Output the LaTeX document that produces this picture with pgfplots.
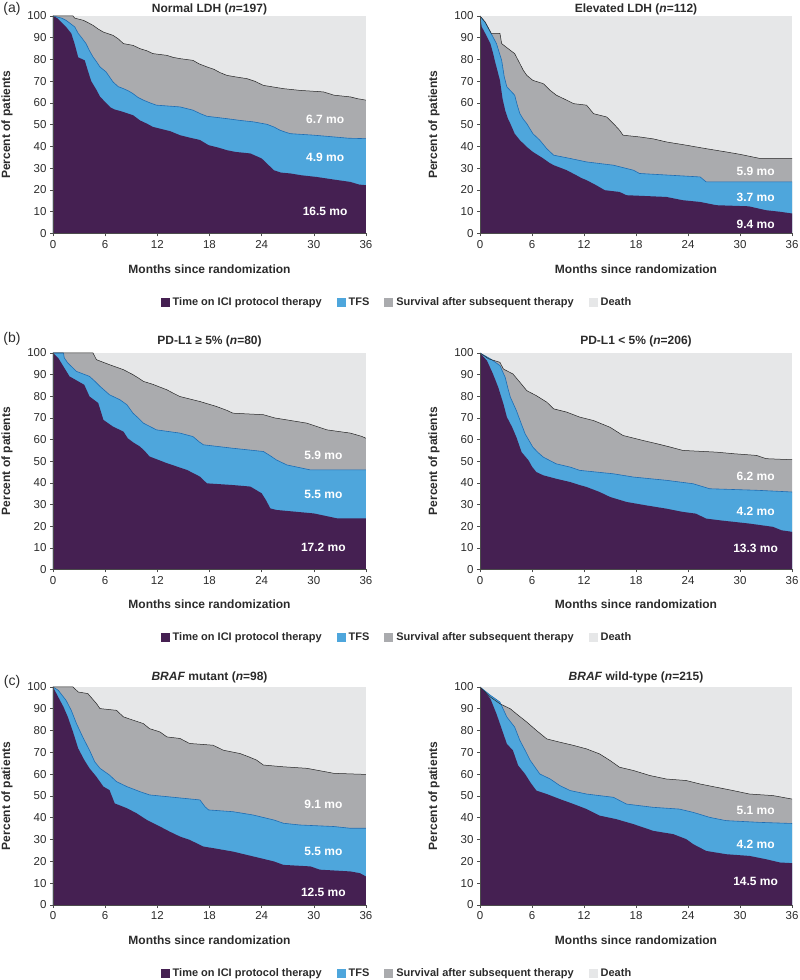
\documentclass[border=0pt]{standalone}
\usepackage{fontspec}
\setmainfont{Liberation Sans}
\usepackage{pgfplots}
\usepackage{pgfplotstable}
\pgfplotsset{compat=1.18}

\definecolor{ici}{HTML}{452052}
\definecolor{tfs}{HTML}{4EA6DC}
\definecolor{tfsline}{HTML}{1F6DB3}
\definecolor{surv}{HTML}{AAABAE}
\definecolor{death}{HTML}{E6E7E8}
\definecolor{txt}{HTML}{2B2B2B}

% ---------------- (a) Normal LDH ----------------
\pgfplotstableread[row sep=\\]{x y\\
0 100\\ 0.5 99\\ 1.0 97\\ 1.5 95\\ 2.1 92\\ 2.5 87\\ 2.9 81\\ 3.65 79.6\\ 4.0 75\\ 4.4 70\\ 5.0 66\\ 5.4 63\\ 6.1 60\\ 6.6 58\\ 7.1 57\\ 8.0 56\\ 9.2 54.4\\ 10 52\\ 10.8 50.5\\ 11.5 49\\ 12.3 48.2\\ 13.5 47\\ 14.6 45.2\\ 15.8 44\\ 16.9 43\\ 17.9 40.6\\ 19 39.5\\ 20 38.3\\ 21 37.5\\ 22.7 36.8\\ 24 34.5\\ 24.6 32.2\\ 25.4 29.1\\ 26.2 28\\ 27.3 27.6\\ 28.5 26.8\\ 30.3 26\\ 32.3 24.8\\ 34.2 23.7\\ 35.2 22.5\\ 36 22.2\\
}\aLici
\pgfplotstableread[row sep=\\]{x y\\
0 100\\ 1.0 99\\ 1.5 98\\ 2.0 96.5\\ 2.5 95\\ 2.9 92\\ 3.3 90\\ 3.8 87.3\\ 4.2 84\\ 4.6 81.2\\ 5.0 79\\ 5.4 76.6\\ 6.1 74.3\\ 6.5 72\\ 6.9 69.7\\ 7.5 67.5\\ 8.1 66.6\\ 8.7 65.5\\ 9.2 64.3\\ 9.8 62.5\\ 10.4 61.3\\ 11.2 60\\ 11.9 59\\ 14.6 58.2\\ 15.3 57.5\\ 16.1 56.7\\ 17 55\\ 17.7 53.9\\ 20 52.8\\ 21.5 52\\ 23.1 51.3\\ 24.6 50.2\\ 25.4 49\\ 26.1 47.5\\ 26.8 46.5\\ 27.3 45.9\\ 30 45.2\\ 32.3 44.4\\ 34 43.8\\ 36 43.6\\
}\aLtfs
\pgfplotstableread[row sep=\\]{x y\\
0 100\\ 2.3 100\\ 2.5 99\\ 3.5 98\\ 4.0 97\\ 4.6 95.7\\ 5.2 94\\ 5.8 92.6\\ 6.9 91.1\\ 7.5 89.5\\ 8.1 87.3\\ 9.2 86.5\\ 10 85\\ 10.8 84\\ 11.5 82.7\\ 13.1 81.9\\ 13.8 81\\ 14.6 80.4\\ 16.1 79.6\\ 16.8 78\\ 17.7 76.6\\ 18.5 75.5\\ 19.2 74\\ 20 72.7\\ 21 72\\ 22.3 71.2\\ 23.2 70\\ 24.2 68.1\\ 26.5 66.6\\ 28.4 65.8\\ 31.1 65.1\\ 32 64\\ 32.3 63.6\\ 34.2 62.8\\ 35 62\\ 36 61.3\\
}\aLos

% ---------------- (a) Elevated LDH ----------------
\pgfplotstableread[row sep=\\]{x y\\
0 100\\ 0.2 95\\ 0.6 92\\ 1.2 87.3\\ 1.5 83\\ 1.7 79.6\\ 2.0 75\\ 2.3 70.4\\ 2.6 62\\ 2.9 56.7\\ 3.2 53\\ 3.5 50.5\\ 4.0 45.9\\ 4.6 42.9\\ 5.4 39.8\\ 6.1 37.5\\ 6.7 36\\ 7.3 34.5\\ 8.0 32.5\\ 8.5 31.4\\ 10 29.1\\ 11.1 26.8\\ 11.7 25.5\\ 12.3 24.5\\ 13.4 22.2\\ 14.4 19.9\\ 16.1 19.1\\ 16.9 17.6\\ 21.5 16.8\\ 23.4 15.3\\ 25.4 14.5\\ 27.3 13.0\\ 31 12.5\\ 33 10.7\\ 34.6 10\\ 36 9.2\\
}\aRici
\pgfplotstableread[row sep=\\]{x y\\
0 100\\ 0.6 97\\ 1.2 92.6\\ 1.9 87.3\\ 2.5 79.6\\ 2.8 72\\ 3.1 67.4\\ 4.0 63.6\\ 4.3 59\\ 4.6 55.1\\ 5.0 52.5\\ 5.4 50.5\\ 6.1 45.9\\ 6.9 42.9\\ 7.7 39\\ 8.5 36\\ 10.4 34.5\\ 12.3 32.9\\ 15.4 31.4\\ 17.7 29.1\\ 18.4 27.6\\ 25.4 26\\ 26.1 23.7\\ 36 23.7\\
}\aRtfs
\pgfplotstableread[row sep=\\]{x y\\
0 100\\ 0.6 97.2\\ 1.3 92\\ 2.3 92\\ 2.5 87.3\\ 3.5 84.2\\ 4.0 82.7\\ 4.6 78.1\\ 5.0 75\\ 5.4 72.7\\ 6.1 70.4\\ 7.3 68.9\\ 8.1 65.8\\ 8.8 63.6\\ 10 61.3\\ 10.8 59.7\\ 12.3 59\\ 13.1 55.1\\ 14.6 53.6\\ 15.4 50.5\\ 16.1 47.5\\ 16.5 45.2\\ 18.4 44.4\\ 20 43.5\\ 21.5 42.1\\ 23.8 40.6\\ 26.1 39\\ 28.4 37.5\\ 30 36.4\\ 32.3 34.5\\ 36 34.5\\
}\aRos

% ---------------- (b) PD-L1 >= 5% ----------------
\pgfplotstableread[row sep=\\]{x y\\
0 100\\ 0.6 97.7\\ 1.2 93.8\\ 1.9 89.2\\ 2.9 86.9\\ 3.6 85.3\\ 4.2 79.9\\ 5.2 76.9\\ 5.5 73\\ 5.8 69.1\\ 6.9 66\\ 8.1 63.7\\ 8.6 60.6\\ 9.3 58.5\\ 10 56.8\\ 10.6 54.5\\ 11.1 52.2\\ 13.1 49.1\\ 15.4 46\\ 16.9 42.9\\ 17.7 39.8\\ 20.7 39\\ 22.7 38.3\\ 24 35.2\\ 24.5 32\\ 25 28.2\\ 25.7 27.5\\ 30 25.9\\ 32.7 23.6\\ 36 23.6\\
}\bLici
\pgfplotstableread[row sep=\\]{x y\\
0 100\\ 1.2 100\\ 1.3 97.7\\ 1.7 95.4\\ 2.7 91.5\\ 4.2 89.2\\ 4.8 87\\ 5.4 84.6\\ 6.5 80.7\\ 7.7 78.4\\ 8.5 76.1\\ 9.2 72.2\\ 9.8 70\\ 10.4 67.6\\ 11.9 64.5\\ 14.6 63\\ 16.1 61.4\\ 16.8 59\\ 17.3 57.6\\ 20.7 56\\ 24.2 54.5\\ 25 52.5\\ 25.7 50.6\\ 26.9 48.3\\ 29.6 46\\ 36 46\\
}\bLtfs
\pgfplotstableread[row sep=\\]{x y\\
0 100\\ 4.6 100\\ 5.0 96.9\\ 6.5 94.6\\ 8.1 92.3\\ 9.2 90\\ 9.8 88.5\\ 10.4 86.9\\ 11.5 85.5\\ 13.1 83\\ 13.8 81.5\\ 14.6 79.9\\ 16.9 77.6\\ 18.8 75.3\\ 20 73.5\\ 20.7 72.2\\ 24.2 71.5\\ 25.5 70\\ 26.9 69.1\\ 29.2 67.6\\ 31.5 64.5\\ 34.2 63\\ 35.5 61.5\\ 36 60.6\\
}\bLos

% ---------------- (b) PD-L1 < 5% ----------------
\pgfplotstableread[row sep=\\]{x y\\
0 100\\ 0.8 96.5\\ 1.5 90.3\\ 2.1 84.2\\ 2.7 76.5\\ 3.1 70.4\\ 3.7 65.8\\ 4.2 61.1\\ 4.8 54.2\\ 5.6 50.4\\ 6.0 47.5\\ 6.5 45\\ 7.3 43.5\\ 8.8 41.9\\ 10.4 40.4\\ 11.5 39\\ 12.3 38.1\\ 13.8 35.8\\ 15 33.5\\ 16.9 31.2\\ 19.2 29.6\\ 21.5 28.1\\ 23.4 26.6\\ 24.9 25.8\\ 26.1 23.5\\ 27.7 22.7\\ 31.1 21.2\\ 33.8 19.7\\ 34.8 18.1\\ 36 17.4\\
}\bRici
\pgfplotstableread[row sep=\\]{x y\\
0 100\\ 1.2 97.3\\ 2.3 94.2\\ 2.9 88.8\\ 3.2 84\\ 3.5 79.6\\ 4.2 73.4\\ 4.7 68\\ 5.2 62.7\\ 6.1 56.5\\ 6.7 54\\ 7.3 51.9\\ 8.8 48.8\\ 10.4 47.3\\ 11.5 45.8\\ 15.4 44.2\\ 17.7 42.7\\ 21.5 41.2\\ 24.6 39.6\\ 26.5 37.3\\ 31.9 36.6\\ 36 35.8\\
}\bRtfs
\pgfplotstableread[row sep=\\]{x y\\
0 100\\ 1.0 97.3\\ 2.3 95.7\\ 2.7 92.6\\ 3.8 90.3\\ 4.6 86.5\\ 5.4 82.6\\ 6.5 80.3\\ 7.7 77.3\\ 8.5 74.2\\ 10 72.7\\ 11.5 70.4\\ 13.1 68.8\\ 15 65.7\\ 16.5 61.9\\ 18.8 59.6\\ 20.4 58.1\\ 22 56.5\\ 23.4 55\\ 27.3 54.2\\ 29.2 53.5\\ 31.9 52.7\\ 33 51.2\\ 36 50.7\\
}\bRos

% ---------------- (c) BRAF mutant ----------------
\pgfplotstableread[row sep=\\]{x y\\
0 100\\ 0.6 95.4\\ 1.2 90.9\\ 1.7 86.3\\ 2.3 79.4\\ 2.9 71.8\\ 3.6 66.5\\ 4.2 62.7\\ 5.0 58.8\\ 5.8 54.3\\ 6.5 52.7\\ 7.1 46.6\\ 8.5 44.4\\ 9.6 42.1\\ 10.8 39\\ 12.3 36\\ 13.4 33.7\\ 14.6 31.4\\ 15.7 29.9\\ 17.3 26.8\\ 18.4 26.1\\ 20.7 24.5\\ 23 22.3\\ 25.4 20\\ 26.5 18.4\\ 29.6 17.7\\ 30.7 16.2\\ 34.2 15.4\\ 35.3 14.6\\ 36 13.1\\
}\cLici
\pgfplotstableread[row sep=\\]{x y\\
0 100\\ 0.6 98.5\\ 1.5 93.9\\ 2.1 89.3\\ 2.7 83.2\\ 3.5 76.4\\ 4.2 71\\ 4.8 65.7\\ 5.4 62.7\\ 6.5 59.6\\ 7.3 56.6\\ 8.5 54.3\\ 10 52\\ 11.1 50.5\\ 16.9 48.2\\ 17.5 45\\ 17.9 43.6\\ 20.7 42.8\\ 23 41.3\\ 25.4 39\\ 26.5 37.5\\ 28.4 36.7\\ 32.3 36\\ 34.2 35.2\\ 36 35.2\\
}\cLtfs
\pgfplotstableread[row sep=\\]{x y\\
0 100\\ 2.3 100\\ 2.9 97.7\\ 4.0 97\\ 5.0 92.4\\ 5.4 90.1\\ 7.3 89.3\\ 8.1 86.3\\ 9.2 84.8\\ 10.4 83.2\\ 11.1 80.9\\ 12.3 79.4\\ 13.1 77.1\\ 14.6 76.4\\ 15.7 74.1\\ 18.4 73.3\\ 19.6 71\\ 21.5 69.5\\ 22.5 68\\ 23.4 66.5\\ 24.2 64.2\\ 26.5 63.4\\ 29.2 62.7\\ 31.5 61\\ 32.3 60.4\\ 36 59.9\\
}\cLos

% ---------------- (c) BRAF wild-type ----------------
\pgfplotstableread[row sep=\\]{x y\\
0 100\\ 0.6 97.7\\ 1.2 94.6\\ 1.9 87.7\\ 2.5 80.8\\ 3.1 73.9\\ 3.8 70.9\\ 4.4 64\\ 5.2 60.1\\ 5.8 56.3\\ 6.5 52.5\\ 7.7 50.9\\ 9.2 48.6\\ 10.8 46.3\\ 12.3 44\\ 13.8 41\\ 15.7 39.4\\ 17.7 37.1\\ 20 34\\ 22.3 32.5\\ 23.8 30.2\\ 24.6 27.9\\ 26.1 24.8\\ 28.4 23.3\\ 31.1 22.5\\ 33 21\\ 34.6 19.5\\ 36 19.2\\
}\cRici
\pgfplotstableread[row sep=\\]{x y\\
0 100\\ 1.2 96.2\\ 2.3 93.1\\ 3.1 86.2\\ 4.0 81.6\\ 4.6 75.5\\ 5.2 71\\ 5.8 66.3\\ 6.9 60.1\\ 8.1 57.8\\ 9.2 54.8\\ 10.4 52.5\\ 12.3 50.9\\ 15.4 49.4\\ 16.9 46.3\\ 20 44.8\\ 23 44\\ 24.6 42.5\\ 26.5 40.2\\ 28.4 38.7\\ 32.3 37.9\\ 36 37.4\\
}\cRtfs
\pgfplotstableread[row sep=\\]{x y\\
0 100\\ 1.2 95.4\\ 2.3 92.3\\ 3.5 90\\ 4.2 87.7\\ 5.4 83.9\\ 6.5 80.1\\ 7.7 76.2\\ 9.2 74.7\\ 10.8 73.2\\ 12.3 71.6\\ 13.8 69.3\\ 15 66.3\\ 16.1 63.2\\ 17.7 61.7\\ 19.6 59.4\\ 21.5 57.8\\ 23.8 57.1\\ 25.4 55.5\\ 27.3 54\\ 29.2 52.5\\ 31.1 50.9\\ 33.8 50.2\\ 36 48.6\\
}\cRos

\pgfplotsset{
  km/.style={
    scale only axis,
    xmin=0, xmax=36, ymin=0, ymax=100,
    xtick={0,6,...,36}, ytick={0,10,...,100},
    axis x line*=bottom, axis y line*=left,
    axis on top,
    tick align=outside, major tick length=3pt,
    every tick/.style={color=black!70, line width=0.6pt},
    axis line style={color=black!70, line width=0.7pt},
    tick label style={font=\fontsize{11.5}{13}\selectfont, text=txt},
    /pgf/number format/assume math mode=true,
    xlabel={Months since randomization},
    ylabel={Percent of patients},
    every axis x label/.style={at={(axis description cs:0.5,-0.162)}, anchor=center,
       font=\bfseries\fontsize{12}{14}\selectfont, text=txt},
    every axis y label/.style={at={(axis description cs:-0.147,0.5)}, anchor=center, rotate=90,
       font=\bfseries\fontsize{12}{14}\selectfont, text=txt},
    legend image code/.code={\fill[##1, draw=none] (0pt,-4.5pt) rectangle (9pt,4.5pt);},
  },
  ttl/.style={every axis title/.style={at={(0.5,1)}, anchor=base, yshift=#1,
       font=\bfseries\fontsize{12}{14}\selectfont, text=txt}},
  kmlegend/.style={
    legend columns=4,
    legend style={at={(axis description cs:1.099,-0.315)}, anchor=center,
      draw=none, fill=none, font=\bfseries\fontsize{11}{13}\selectfont, text=txt,
      /tikz/every even column/.append style={column sep=13pt},
      /tikz/every odd column/.append style={column sep=1pt}},
  },
}

\newcommand{\kmpanel}[3]{%
  \addplot[fill=death, draw=none, forget plot] coordinates {(0,100) (36,100)} \closedcycle;
  \addplot[sharp plot, fill=surv, draw=none, forget plot] table {#1} \closedcycle;
  \addplot[sharp plot, fill=tfs, draw=none, forget plot] table {#2} \closedcycle;
  \addplot[sharp plot, fill=ici, draw=none, forget plot] table {#3} \closedcycle;
  \addplot[sharp plot, draw=tfsline, line width=0.6pt, forget plot] table {#2};
  \addplot[sharp plot, draw=black!85, line width=0.5pt, forget plot] table {#1};
}
\newcommand{\kmlegend}{%
  \addlegendimage{fill=ici}\addlegendentry{Time on ICI protocol therapy}
  \addlegendimage{fill=tfs}\addlegendentry{TFS}
  \addlegendimage{fill=surv}\addlegendentry{Survival after subsequent therapy}
  \addlegendimage{fill=death}\addlegendentry{Death}
}
\newcommand{\mo}[3]{\node[text=white, font=\bfseries\fontsize{12}{14}\selectfont] at (axis cs:#1,#2) {#3};}

\begin{document}
\begin{tikzpicture}
\path[use as bounding box] (0pt,0pt) rectangle (800pt,980pt);

% ---- row (a)
\node[font=\fontsize{14}{16}\selectfont, text=txt] at (12pt,971pt) {(a)};
\begin{axis}[km, kmlegend, ttl=3.5pt, at={(53pt,746.5pt)}, anchor=south west, width=313pt, height=217.5pt,
  title={Normal LDH (\textit{n}=197)}]
  \kmpanel{\aLos}{\aLtfs}{\aLici}
  \kmlegend
  \mo{31.3}{52.5}{6.7 mo}
  \mo{31.3}{35}{4.9 mo}
  \mo{31.3}{10.2}{16.5 mo}
\end{axis}
\begin{axis}[km, ttl=3.5pt, at={(480pt,746.5pt)}, anchor=south west, width=312pt, height=217.5pt,
  title={Elevated LDH (\textit{n}=112)}]
  \kmpanel{\aRos}{\aRtfs}{\aRici}
  \mo{31.8}{28.4}{5.9 mo}
  \mo{31.8}{16.8}{3.7 mo}
  \mo{31.8}{4.3}{9.4 mo}
\end{axis}

% ---- row (b)
\node[font=\fontsize{14}{16}\selectfont, text=txt] at (12pt,641pt) {(b)};
\begin{axis}[km, kmlegend, ttl=8.5pt, at={(53pt,410.5pt)}, anchor=south west, width=313pt, height=216.5pt,
  title={PD-L1 ≥ 5\% (\textit{n}=80)}]
  \kmpanel{\bLos}{\bLtfs}{\bLici}
  \kmlegend
  \mo{31.1}{52.6}{5.9 mo}
  \mo{31.1}{34.9}{5.5 mo}
  \mo{31.1}{10}{17.2 mo}
\end{axis}
\begin{axis}[km, ttl=8.5pt, at={(480pt,410.5pt)}, anchor=south west, width=312pt, height=216.5pt,
  title={PD-L1 < 5\% (\textit{n}=206)}]
  \kmpanel{\bRos}{\bRtfs}{\bRici}
  \mo{31.8}{43}{6.2 mo}
  \mo{31.8}{26.7}{4.2 mo}
  \mo{31.8}{9.7}{13.3 mo}
\end{axis}

% ---- row (c)
\node[font=\fontsize{14}{16}\selectfont, text=txt] at (12pt,298pt) {(c)};
\begin{axis}[km, kmlegend, ttl=6.5pt, at={(53pt,75pt)}, anchor=south west, width=313pt, height=218pt,
  title={\textit{BRAF} mutant (\textit{n}=98)}]
  \kmpanel{\cLos}{\cLtfs}{\cLici}
  \kmlegend
  \mo{31.1}{46.3}{9.1 mo}
  \mo{31.1}{24.5}{5.5 mo}
  \mo{31.1}{5.9}{12.5 mo}
\end{axis}
\begin{axis}[km, ttl=6.5pt, at={(480pt,75pt)}, anchor=south west, width=312pt, height=218pt,
  title={\textit{BRAF} wild-type (\textit{n}=215)}]
  \kmpanel{\cRos}{\cRtfs}{\cRici}
  \mo{31.8}{43.6}{5.1 mo}
  \mo{31.8}{27.6}{4.2 mo}
  \mo{31.8}{10.7}{14.5 mo}
\end{axis}
\end{tikzpicture}
\end{document}
